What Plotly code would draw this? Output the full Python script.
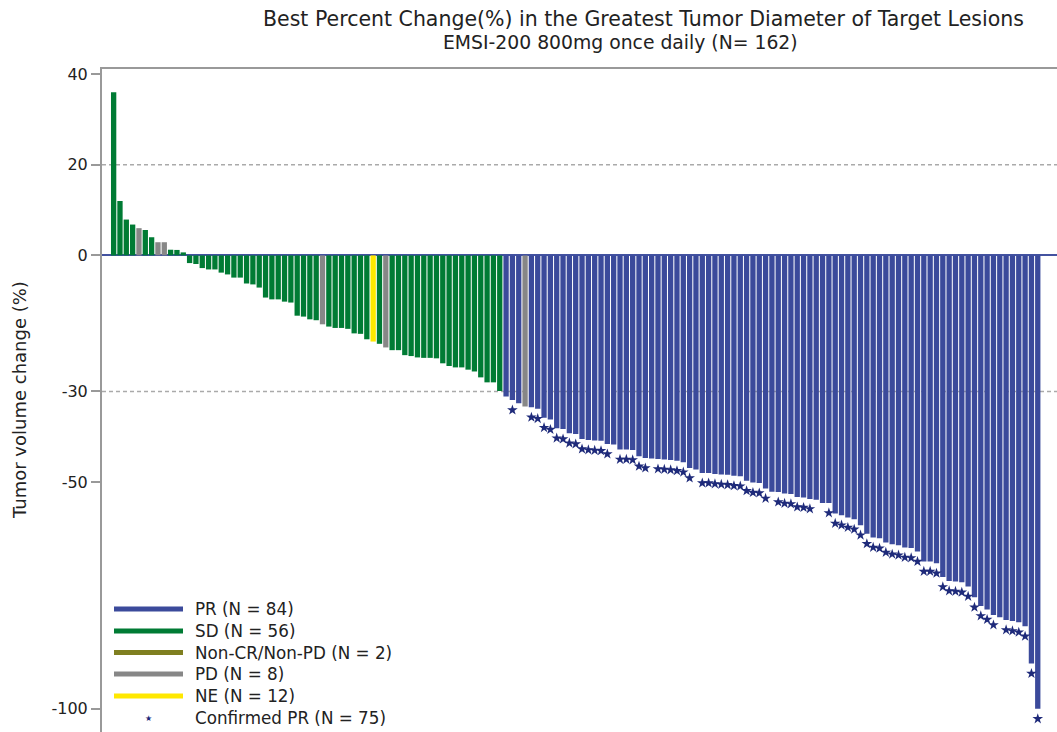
import plotly.graph_objects as go

# ---------------- data ----------------
patient_rank = list(range(1, 148))

pct_change = [
    36.0, 12.0, 7.9, 6.8, 6.0, 5.6, 4.0, 2.9, 2.9, 1.25,
    1.2, 0.66, -1.7, -1.9, -2.8, -3.1, -3.1, -3.8, -4.2, -4.9,
    -4.9, -6.2, -6.4, -7.1, -9.3, -9.7, -9.7, -10.2, -10.4, -13.3,
    -13.5, -14.1, -14.3, -15.2, -15.7, -16.0, -16.0, -16.2, -17.2, -17.3,
    -18.5, -19.0, -19.5, -20.3, -20.9, -20.9, -22.0, -22.2, -22.5, -22.6,
    -22.6, -22.7, -23.8, -24.4, -24.7, -24.7, -25.2, -25.6, -26.9, -28.0,
    -28.0, -29.9, -31.1, -31.9, -32.6, -33.3, -33.5, -33.8, -35.8, -36.2,
    -38.1, -38.3, -39.2, -39.4, -40.5, -40.7, -40.8, -40.9, -41.6, -41.7,
    -42.8, -42.8, -42.9, -44.3, -44.7, -44.8, -44.9, -45.0, -45.1, -45.3,
    -45.6, -46.9, -47.2, -48.0, -48.0, -48.2, -48.3, -48.4, -48.6, -48.7,
    -49.7, -50.1, -50.2, -51.4, -52.1, -52.2, -52.5, -52.6, -53.3, -53.4,
    -53.7, -53.9, -54.6, -54.6, -56.9, -57.3, -57.8, -58.2, -59.5, -61.4,
    -62.2, -62.4, -63.3, -63.7, -63.9, -64.4, -64.5, -65.3, -67.5, -67.5,
    -67.9, -70.9, -71.8, -71.9, -72.1, -73.0, -75.4, -77.3, -78.1, -79.3,
    -79.8, -80.4, -80.6, -80.9, -81.8, -90.0, -100.0,
]

response = [
    "SD", "SD", "SD", "SD", "PD", "SD", "SD", "PD", "PD", "SD",
    "SD", "SD", "SD", "SD", "SD", "SD", "SD", "SD", "SD", "SD",
    "SD", "SD", "SD", "SD", "SD", "SD", "SD", "SD", "SD", "SD",
    "SD", "SD", "SD", "PD", "SD", "SD", "SD", "SD", "SD", "SD",
    "SD", "NE", "SD", "PD", "SD", "SD", "SD", "SD", "SD", "SD",
    "SD", "SD", "SD", "SD", "SD", "SD", "SD", "SD", "SD", "SD",
    "SD", "SD", "PR", "PR", "PR", "PD", "PR", "PR", "PR", "PR",
] + ["PR"] * 77

confirmed_pr = [
    64, 67, 68, 69, 70, 71, 72, 73, 74, 75, 76, 77, 78, 79,
    81, 82, 83, 84, 85, 87, 88, 89, 90, 91, 92,
    94, 95, 96, 97, 98, 99, 100, 101, 102, 103, 104,
    106, 107, 108, 109, 110, 111,
    114, 115, 116, 117, 118, 119, 120, 121, 122, 123, 124, 125, 126, 127,
    128, 129, 130, 131, 132, 133, 134, 135, 136, 137, 138, 139, 140,
    142, 143, 144, 145, 146, 147,
]

legend_keys = ["PR", "SD", "Non-CR/Non-PD", "PD", "NE"]
legend_labels = ["PR (N = 84)", "SD (N = 56)", "Non-CR/Non-PD (N = 2)",
                 "PD (N = 8)", "NE (N = 12)"]
star_label = "Confirmed PR (N = 75)"

y_tick_vals = [40, 20, 0, -30, -50, -100]
y_tick_text = ["40", "20", "0", "-30", "-50", "-100"]
grid_vals = [20, -30]

title_text = "Best Percent Change(%) in the Greatest Tumor Diameter of Target Lesions"
subtitle_text = "EMSI-200 800mg once daily (N= 162)"
y_title = "Tumor volume change (%)"

# ---------------- styling ----------------
colors = {
    "PR": "#3B4A9B",
    "SD": "#007B34",
    "Non-CR/Non-PD": "#7F7F20",
    "PD": "#878787",
    "NE": "#FFE800",
}
star_color = "#1E2A7A"
FONT = "DejaVu Sans"
TXT = "#222222"

W, H = 1057, 732
L, R, T, B = 102, 0, 69, 0


def px(x):
    return (x - L) / (W - L - R)


def py(y):
    return (H - B - y) / (H - T - B)


fig = go.Figure()

fig.add_trace(go.Bar(
    x=patient_rank,
    y=pct_change,
    marker=dict(color=[colors[r] for r in response], line=dict(width=0)),
    showlegend=False,
    hoverinfo="x+y",
))

star_offset = 2.2
fig.add_trace(go.Scatter(
    x=confirmed_pr,
    y=[pct_change[i - 1] - star_offset for i in confirmed_pr],
    mode="markers",
    marker=dict(symbol="star", size=8, color=star_color, line=dict(width=0)),
    showlegend=False,
))

shapes = []
for g in grid_vals:
    shapes.append(dict(type="line", xref="paper", x0=0, x1=1, yref="y", y0=g, y1=g,
                       line=dict(color="#AAAAAA", width=1.5, dash="4px,3px"),
                       layer="below"))

annotations = [
    dict(text=title_text, x=px(643), y=py(19), xref="paper", yref="paper",
         xanchor="center", yanchor="middle", showarrow=False,
         font=dict(family=FONT, size=20.5, color=TXT)),
    dict(text=subtitle_text, x=px(620), y=py(43), xref="paper", yref="paper",
         xanchor="center", yanchor="middle", showarrow=False,
         font=dict(family=FONT, size=18.8, color=TXT)),
    dict(text=y_title, x=px(19), y=py(400), xref="paper", yref="paper",
         xanchor="center", yanchor="middle", textangle=-90, showarrow=False,
         font=dict(family=FONT, size=18, color=TXT)),
]

# manual legend (thick line swatches, star for confirmed PR)
leg_y = [609, 631, 652.5, 674, 696, 718]
for key, lab, yy in zip(legend_keys, legend_labels, leg_y):
    shapes.append(dict(type="line", xref="paper", yref="paper",
                       x0=px(114), x1=px(183), y0=py(yy), y1=py(yy),
                       line=dict(color=colors[key], width=5)))
    annotations.append(dict(text=lab, x=px(193), y=py(yy), xref="paper", yref="paper",
                            xanchor="left", yanchor="middle", showarrow=False,
                            font=dict(family=FONT, size=16.75, color=TXT)))
annotations.append(dict(text="★", x=px(148), y=py(leg_y[-1]), xref="paper", yref="paper",
                        xanchor="center", yanchor="middle", showarrow=False,
                        font=dict(family=FONT, size=8, color=star_color)))
annotations.append(dict(text=star_label, x=px(193), y=py(leg_y[-1]), xref="paper",
                        yref="paper", xanchor="left", yanchor="middle", showarrow=False,
                        font=dict(family=FONT, size=16.75, color=TXT)))

fig.update_layout(
    width=W, height=H,
    margin=dict(l=L, r=R, t=T, b=B, pad=0),
    plot_bgcolor="white", paper_bgcolor="white",
    bargap=0.16,
    showlegend=False,
    font=dict(family=FONT, color=TXT),
    shapes=shapes,
    annotations=annotations,
)
fig.update_xaxes(
    range=[-0.84, 150.04], side="top", showline=True, linecolor="#999999",
    linewidth=2, showgrid=False, zeroline=False, showticklabels=False, ticks="",
)
fig.update_yaxes(
    range=[-105.1, 41.1], tickmode="array", tickvals=y_tick_vals, ticktext=y_tick_text,
    showline=True, linecolor="#999999", linewidth=2,
    ticks="outside", ticklen=9, tickcolor="#999999", tickwidth=1.5,
    showgrid=False, zeroline=True, zerolinecolor="#4352A0", zerolinewidth=2,
    tickfont=dict(family=FONT, size=16, color=TXT),
)

fig.write_html(
    "out.html",
    config={"displayModeBar": False},
    post_script="document.body.style.margin='0';document.body.style.overflow='hidden';",
)
